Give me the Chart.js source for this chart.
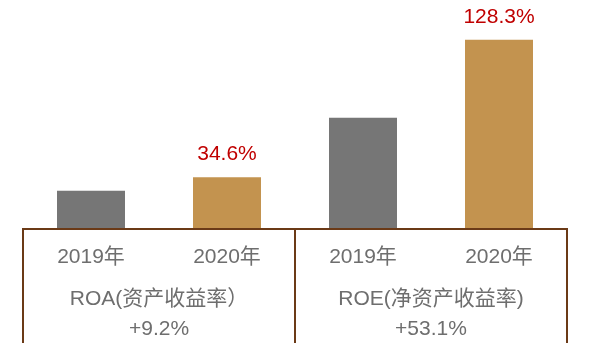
<!DOCTYPE html>
<html>
<head>
<meta charset="utf-8">
<script src="https://cdn.jsdelivr.net/npm/chart.js@4/dist/chart.umd.min.js"></script>
<style>
  html, body { margin: 0; padding: 0; background: #ffffff; }
  #wrap { width: 590px; height: 355px; position: relative; }
</style>
</head>
<body>
<div id="wrap"><canvas id="c" width="590" height="355"></canvas></div>
<script>
// ---- data ----
const categories = ['2019年', '2020年', '2019年', '2020年'];
const values = [25.4, 34.6, 75.2, 128.3];
const valueLabels = ['', '34.6%', '', '128.3%'];
const groupNames = ['ROA(资产收益率）', 'ROE(净资产收益率)'];
const groupChanges = ['+9.2%', '+53.1%'];
const barColors = ['#767676', '#C3934F', '#767676', '#C3934F'];

const FONT = '"Liberation Sans", Arial, "Noto Sans CJK SC", sans-serif';
const TEXT_GRAY = '#6E6E6E';
const LINE_BROWN = '#6B3A17';

const decorPlugin = {
  id: 'decor',
  afterDatasetsDraw(chart) {
    const ctx = chart.ctx;
    const area = chart.chartArea;
    const xs = chart.scales.x;
    const meta = chart.getDatasetMeta(0);
    ctx.save();
    // value labels
    ctx.font = '21px ' + FONT;
    ctx.fillStyle = '#C00000';
    ctx.textAlign = 'center';
    ctx.textBaseline = 'middle';
    meta.data.forEach((bar, i) => {
      if (valueLabels[i]) ctx.fillText(valueLabels[i], bar.x, bar.y - 23);
    });
    // frame lines
    const bottom = 343;
    ctx.strokeStyle = LINE_BROWN;
    ctx.lineWidth = 2;
    ctx.beginPath();
    ctx.moveTo(area.left - 1, area.bottom + 1);
    ctx.lineTo(area.right + 1, area.bottom + 1);
    const divs = [area.left, xs.getPixelForValue(1.5), area.right];
    divs.forEach(x => {
      ctx.moveTo(x, area.bottom);
      ctx.lineTo(x, bottom);
    });
    ctx.stroke();
    // group labels
    ctx.fillStyle = TEXT_GRAY;
    ctx.font = '21px ' + FONT;
    groupNames.forEach((name, g) => {
      const cx = (xs.getPixelForValue(g * 2) + xs.getPixelForValue(g * 2 + 1)) / 2;
      ctx.fillText(name, cx, 299);
      ctx.fillText(groupChanges[g], cx, 329);
    });
    ctx.restore();
  }
};

new Chart(document.getElementById('c'), {
  type: 'bar',
  data: {
    labels: categories,
    datasets: [{
      data: values,
      backgroundColor: barColors,
      borderWidth: 0,
      barPercentage: 0.5,
      categoryPercentage: 1.0
    }]
  },
  options: {
    responsive: false,
    animation: false,
    devicePixelRatio: 1,
    layout: { padding: { left: 23, right: 23, top: 8, bottom: 0 } },
    plugins: { legend: { display: false }, tooltip: { enabled: false } },
    scales: {
      y: { display: false, min: 0, max: 150 },
      x: {
        grid: { display: false, drawTicks: false },
        border: { display: false },
        ticks: {
          color: TEXT_GRAY,
          font: { family: FONT, size: 21 },
          padding: 17,
          maxRotation: 0,
          autoSkip: false
        },
        afterFit(scale) { scale.height = 127; }
      }
    }
  },
  plugins: [decorPlugin]
});
</script>
</body>
</html>
